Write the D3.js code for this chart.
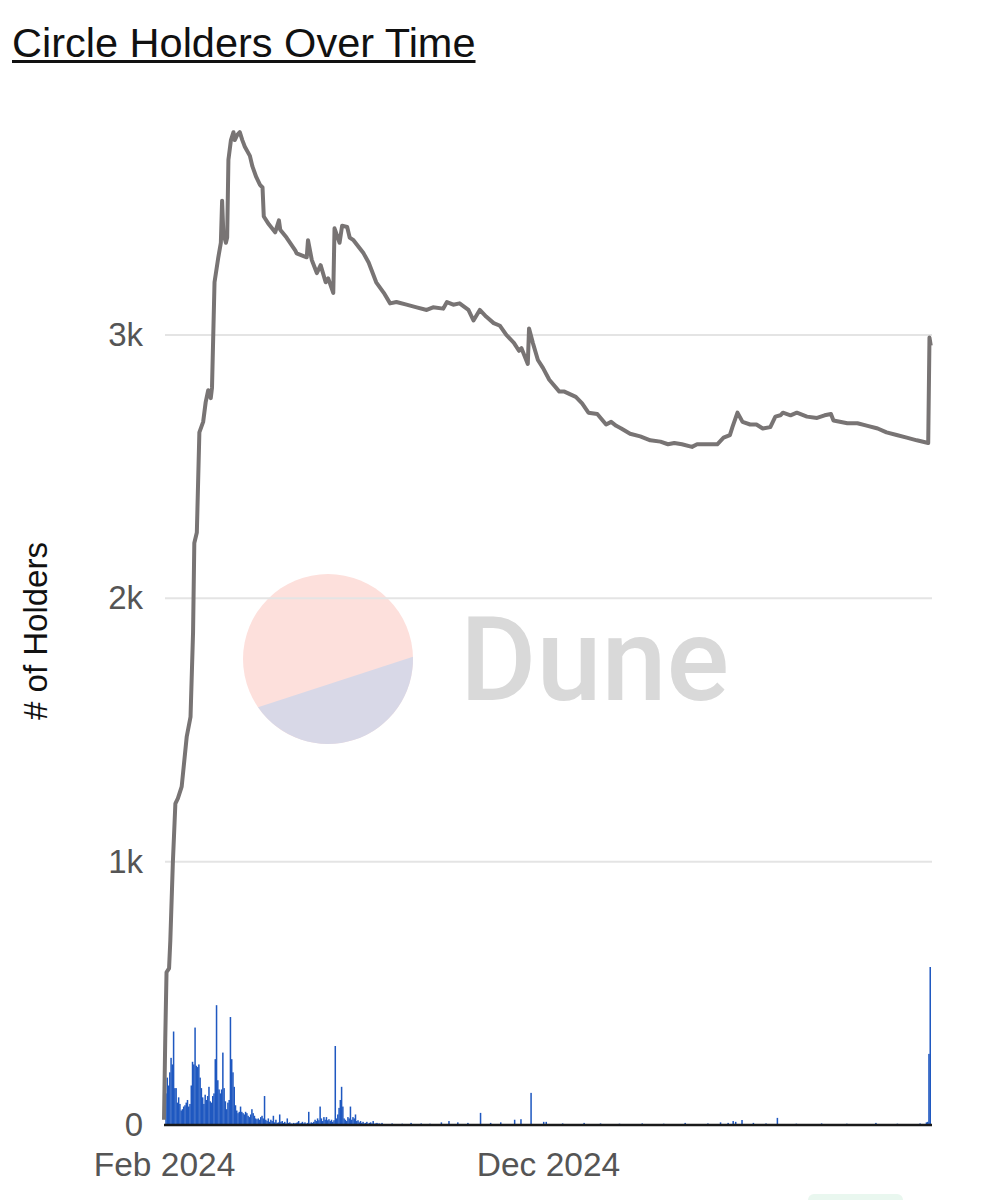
<!DOCTYPE html>
<html>
<head>
<meta charset="utf-8">
<script src="https://cdn.jsdelivr.net/npm/d3@7"></script>
<style>
  body { margin: 0; background: #fff; }
  svg { display: block; font-family: "Liberation Sans", Arial, Helvetica, sans-serif; }
</style>
</head>
<body>
<svg id="chart" width="981" height="1200"></svg>
<script>
// days are counted from Feb 1 2024
var startDate = new Date(2024, 1, 1);
var endDate = new Date(2025, 9, 1);

// cumulative holders (grey line)
var holderDays = [0, 1, 2, 4, 5, 7, 9, 11, 14, 18, 21, 23, 24, 26, 28, 31, 33, 35, 37, 38,
  40, 43, 45, 46, 47, 49, 50, 51, 53, 55, 56, 58, 60, 62, 64, 68, 70, 73, 76, 78,
  79, 83, 88, 91, 92, 97, 104, 105, 113, 114, 117, 121, 124, 128, 130, 134, 135, 139, 141, 145,
  147, 150, 154, 158, 162, 168, 174, 179, 184, 192, 200, 208, 213, 221, 224, 229, 234, 241, 245, 250,
  255, 261, 266, 271, 277, 281, 283, 288, 289, 292, 296, 300, 305, 313, 317, 326, 331, 336, 343, 350,
  354, 358, 362, 369, 377, 385, 393, 399, 404, 410, 418, 422, 430, 438, 443, 448, 450, 454, 458, 464,
  469, 474, 480, 484, 488, 490, 496, 501, 509, 517, 523, 528, 530, 541, 549, 557, 565, 572, 580, 588,
  596, 605, 606, 607];
var holderCounts = [20, 330, 580, 595, 700, 995, 1220, 1240, 1285, 1475, 1550, 1870, 2210, 2250, 2630, 2670, 2745, 2790, 2760, 2800,
  3200, 3295, 3350, 3510, 3385, 3350, 3370, 3665, 3740, 3770, 3740, 3760, 3770, 3740, 3715, 3680, 3640, 3600, 3570, 3560,
  3450, 3420, 3390, 3435, 3400, 3370, 3320, 3310, 3295, 3360, 3285, 3235, 3265, 3200, 3215, 3160, 3405, 3350, 3415, 3410,
  3370, 3360, 3335, 3310, 3275, 3200, 3160, 3120, 3125, 3115, 3105, 3095, 3105, 3100, 3125, 3115, 3120, 3095, 3055, 3095,
  3070, 3045, 3035, 3000, 2970, 2940, 2950, 2890, 3025, 2970, 2905, 2875, 2830, 2785, 2785, 2765, 2740, 2705, 2700, 2660,
  2670, 2655, 2645, 2625, 2615, 2600, 2595, 2585, 2590, 2585, 2575, 2585, 2585, 2585, 2610, 2620, 2650, 2705, 2670, 2660,
  2660, 2645, 2650, 2690, 2695, 2705, 2695, 2705, 2690, 2685, 2695, 2700, 2675, 2665, 2665, 2655, 2645, 2630, 2620, 2610,
  2600, 2590, 2990, 2960];

// new holders per day (blue bars), days 1..172
var earlyNew = [120, 180, 150, 200, 255, 230, 355, 140, 140, 85,
  105, 80, 55, 60, 70, 75, 85, 95, 70, 80,
  150, 240, 230, 370, 225, 220, 230, 180, 140, 105,
  80, 115, 95, 110, 145, 90, 85, 110, 120, 250,
  455, 170, 135, 120, 135, 275, 140, 90, 60, 85,
  95, 410, 250, 200, 145, 75, 55, 45, 50, 70,
  50, 45, 40, 50, 45, 35, 30, 40, 60, 45,
  35, 25, 22, 25, 20, 30, 35, 25, 110, 20,
  15, 25, 12, 20, 15, 35, 10, 20, 8, 10,
  40, 12, 15, 8, 12, 6, 25, 8, 10, 6,
  5, 8, 6, 8, 10, 15, 6, 8, 12, 6,
  10, 5, 8, 50, 6, 10, 8, 12, 20, 15,
  25, 18, 70, 25, 15, 30, 20, 30, 18, 22,
  15, 20, 12, 18, 300, 25, 40, 65, 95, 145,
  70, 25, 20, 15, 30, 25, 70, 20, 30, 25,
  40, 15, 18, 10, 15, 8, 12, 6, 8, 12,
  5, 8, 10, 6, 15, 5, 6, 8, 5, 6,
  4, 8];
// later days, only the visible ones
var lateDays = [180, 188, 195, 203, 210, 219, 225, 232, 240, 250, 258, 266, 277, 282, 290, 300, 302, 315, 332, 345,
  360, 378, 395, 412, 430, 440, 446, 450, 452, 457, 466, 476, 485, 500, 520, 540, 563, 580, 598, 603,
  604, 605, 606];
var lateNew = [6, 5, 8, 6, 5, 10, 15, 10, 8, 46, 8, 10, 20, 22, 122, 12, 12, 6, 8, 6,
  5, 6, 5, 8, 6, 10, 8, 15, 12, 19, 8, 6, 27, 5, 6, 5, 8, 5, 6, 10,
  12, 270, 600];

var xTickDates = [new Date(2024, 1, 1), new Date(2024, 11, 1)];
var yTicks = [0, 1000, 2000, 3000];

var svg = d3.select('#chart');

// scales
var x = d3.scaleTime().domain([startDate, endDate]).range([164, 932]);
var y = d3.scaleLinear().domain([0, 3800]).range([1125, 124.3]);

function dayDate(d) {
  return d3.timeDay.offset(startDate, d);
}

// title with underline
var title = svg.append('text')
  .attr('x', 12)
  .attr('y', 57)
  .style('font-size', '41.5px')
  .style('fill', '#111')
  .text('Circle Holders Over Time');
var titleWidth = title.node().getComputedTextLength();
svg.append('line')
  .attr('x1', 12).attr('x2', 12 + titleWidth)
  .attr('y1', 61.5).attr('y2', 61.5)
  .style('stroke', '#111')
  .style('stroke-width', 3);

// dune watermark
var wm = svg.append('g');
var cx = 328, cy = 659, r = 85;
wm.append('circle')
  .attr('cx', cx).attr('cy', cy).attr('r', r)
  .style('fill', '#fde0dc');
var a1 = -1.5 * Math.PI / 180, a2 = 145.4 * Math.PI / 180;
wm.append('path')
  .attr('d', 'M' + (cx + r * Math.cos(a1)) + ',' + (cy + r * Math.sin(a1)) +
    ' A' + r + ',' + r + ' 0 0 1 ' + (cx + r * Math.cos(a2)) + ',' + (cy + r * Math.sin(a2)) + ' Z')
  .style('fill', '#d8d8e7');
wm.append('text')
  .attr('x', 460)
  .attr('y', 700)
  .style('font-family', 'Roboto, "Open Sans", sans-serif')
  .style('font-weight', 500)
  .style('font-size', '117px')
  .style('fill', '#d9d9d9')
  .text('Dune');

// grid
svg.append('g').selectAll('line')
  .data(yTicks.filter(function(t) { return t > 0; }))
  .enter().append('line')
  .attr('x1', 165).attr('x2', 932)
  .attr('y1', function(d) { return y(d); })
  .attr('y2', function(d) { return y(d); })
  .style('stroke', '#e4e4e4')
  .style('stroke-width', 2);

// bars
var bars = earlyNew.map(function(v, i) { return { day: i + 1, value: v }; });
lateDays.forEach(function(d, i) { bars.push({ day: d, value: lateNew[i] }); });

svg.append('g').selectAll('rect')
  .data(bars)
  .enter().append('rect')
  .attr('x', function(d) { return x(dayDate(d.day)); })
  .attr('width', function(d) { return Math.max(1.2, x(dayDate(d.day + 1)) - x(dayDate(d.day)) + 0.25); })
  .attr('y', function(d) { return y(d.value); })
  .attr('height', function(d) { return y(0) - y(d.value); })
  .style('fill', '#1f58c0');

// baseline
svg.append('line')
  .attr('x1', 164).attr('x2', 932)
  .attr('y1', y(0)).attr('y2', y(0))
  .style('stroke', '#1a1a1a')
  .style('stroke-width', 2.5);

// holders line
var line = d3.line()
  .x(function(d) { return x(dayDate(d[0])); })
  .y(function(d) { return y(d[1]); });
svg.append('path')
  .datum(d3.zip(holderDays, holderCounts))
  .attr('d', line)
  .style('fill', 'none')
  .style('stroke', '#787474')
  .style('stroke-width', 4)
  .style('stroke-linejoin', 'round');

// axes
var yAxis = svg.append('g')
  .attr('transform', 'translate(164,0)')
  .call(d3.axisLeft(y).tickValues(yTicks).tickFormat(d3.format('~s')).tickSize(0).tickPadding(21));
yAxis.select('.domain').remove();
yAxis.selectAll('text')
  .style('font-size', '33px')
  .style('fill', '#555');

var xAxis = svg.append('g')
  .attr('transform', 'translate(0,' + y(0) + ')')
  .call(d3.axisBottom(x).tickValues(xTickDates).tickFormat(d3.timeFormat('%b %Y')).tickSize(0).tickPadding(27));
xAxis.select('.domain').remove();
xAxis.selectAll('text')
  .style('font-size', '33.5px')
  .style('fill', '#555');
xAxis.attr('font-family', null);
yAxis.attr('font-family', null);

// y title
svg.append('text')
  .attr('transform', 'translate(47,631) rotate(-90)')
  .attr('text-anchor', 'middle')
  .style('font-size', '33px')
  .style('fill', '#111')
  .text('# of Holders');

// clipped widget at the bottom edge
svg.append('rect')
  .attr('x', 808).attr('y', 1194)
  .attr('width', 95).attr('height', 14)
  .attr('rx', 6)
  .style('fill', '#e9f7ef');
</script>
</body>
</html>
